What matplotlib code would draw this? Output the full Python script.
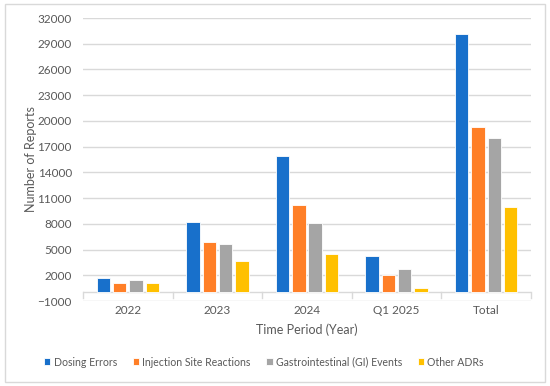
import numpy as np
import matplotlib.pyplot as plt
from matplotlib.patches import Rectangle

periods = ['2022', '2023', '2024', 'Q1 2025', 'Total']
series = ['Dosing Errors', 'Injection Site Reactions',
          'Gastrointestinal (GI) Events', 'Other ADRs']
dosing = [1650, 8180, 15850, 4210, 30080]
injection = [1100, 5850, 10200, 2000, 19300]
gi_events = [1400, 5650, 8100, 2730, 17980]
other = [1060, 3670, 4450, 560, 9930]
colors = ['#1870CB', '#FF7F27', '#A5A5A5', '#FFC000']

plt.rcParams['font.family'] = ['Lato', 'DejaVu Sans']
txt = '#595959'

fig = plt.figure(figsize=(5.5, 3.86), dpi=100)
ax = fig.add_axes([83/550, 1 - 301/386, (531-83)/550, (301-18)/386])

x = np.arange(len(periods))
step = 0.182
for i, (vals, name) in enumerate(zip([dosing, injection, gi_events, other], series)):
    ax.bar(x + (i - 1.5) * step, vals, width=0.15, color=colors[i], label=name,
           edgecolor='white', linewidth=0.6, zorder=3)

ax.set_xlim(-0.5, len(periods) - 0.5)
ax.set_ylim(-1000, 32000)
ax.set_yticks(np.arange(-1000, 32001, 3000))
ax.grid(axis='y', color='#D9D9D9', linewidth=1, zorder=0)
ax.axhline(0, color='#D9D9D9', linewidth=1, zorder=2)
for b in np.arange(-0.5, len(periods), 1):
    ax.plot([b, b], [0, -650], color='#D9D9D9', linewidth=1, zorder=2, clip_on=False)

for s in ax.spines.values():
    s.set_visible(False)
ax.set_xticks(x)
ax.set_xticklabels(periods)
ax.tick_params(axis='both', length=0, colors=txt, labelsize=8.5)
ax.tick_params(axis='x', pad=3)
ax.tick_params(axis='y', pad=8)
ax.set_xlabel('Time Period (Year)', color=txt, fontsize=9, labelpad=5)
ax.set_ylabel('Number of Reports', color=txt, fontsize=9)
ax.yaxis.set_label_coords(-(83 - 37) / 448, 0.5)

ax.legend(loc='center', bbox_to_anchor=(264/550, 1 - 362/386), bbox_transform=fig.transFigure,
          ncol=4, frameon=False, fontsize=7.6, labelcolor=txt, handlelength=0.6,
          handleheight=0.6, handletextpad=0.3, columnspacing=1.5)

fig.patches.append(Rectangle((5/550, 4/386), 540/550, 378/386, transform=fig.transFigure,
                             fill=False, edgecolor='#D9D9D9', linewidth=1))

plt.savefig('out.png', dpi=100)
